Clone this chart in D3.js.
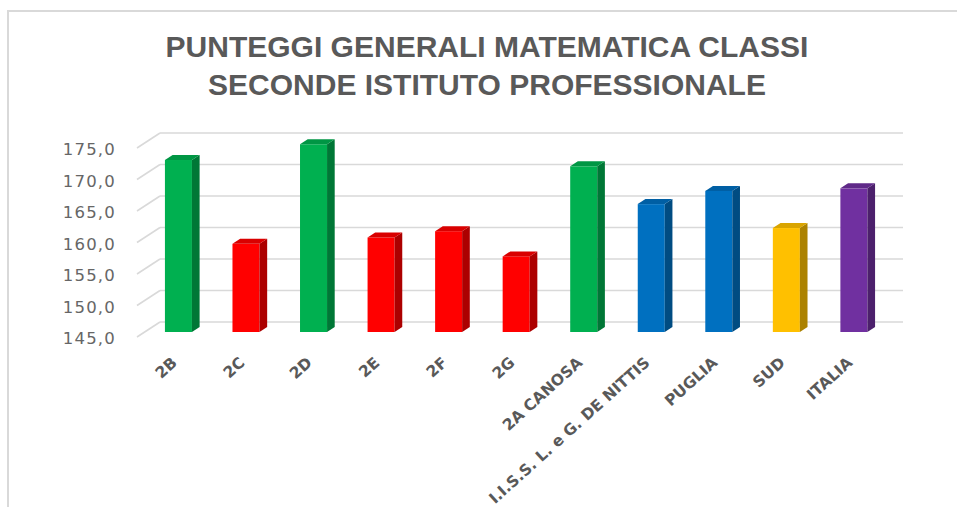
<!DOCTYPE html>
<html>
<head>
<meta charset="utf-8">
<script src="https://cdn.jsdelivr.net/npm/d3@7"></script>
<style>
  html, body { margin: 0; padding: 0; background: #fff; }
  svg { display: block; }
</style>
</head>
<body>
<svg id="chart" width="957" height="507"></svg>
<script>
// ---- DATA ----
const titleLines = ["PUNTEGGI GENERALI MATEMATICA CLASSI", "SECONDE ISTITUTO PROFESSIONALE"];
const categories = ["2B", "2C", "2D", "2E", "2F", "2G", "2A CANOSA", "I.I.S.S. L. e G. DE NITTIS", "PUGLIA", "SUD", "ITALIA"];
const values = [172.3, 159.0, 174.8, 160.0, 161.0, 157.0, 171.3, 165.3, 167.4, 161.5, 167.8];
const groups = ["alta", "bassa", "alta", "bassa", "bassa", "bassa", "alta", "istituto", "regione", "macroarea", "nazione"];
const tickValues = [145, 150, 155, 160, 165, 170, 175];

// ---- STYLE / LAYOUT ----
const groupColors = d3.scaleOrdinal()
  .domain(["alta", "bassa", "istituto", "regione", "macroarea", "nazione"])
  .range(["#00B050", "#FF0000", "#0070C0", "#0070C0", "#FFC000", "#7030A0"]);

const svg = d3.select("#chart");
const depth = { dx: 23, dy: -15 };      // floor depth vector
const barDepthStart = 1 / 3, barDepthEnd = 2 / 3;

const x = d3.scaleBand().domain(categories).range([137, 880]).paddingInner(0.6).paddingOuter(0.3);
const yFront = d3.scaleLinear().domain([145, 175]).range([337, 148]);
const fmt = d3.formatLocale({ decimal: ",", thousands: ".", grouping: [3], currency: ["€", ""] }).format(".1f");

// chart border
svg.append("rect").attr("x", 8).attr("y", 11).attr("width", 960).attr("height", 510)
  .attr("fill", "none").attr("stroke", "#d9d9d9").attr("stroke-width", 2);

// title
svg.append("g").selectAll("text").data(titleLines).join("text")
  .attr("x", 487).attr("y", (d, i) => 56.5 + i * 38.5)
  .attr("text-anchor", "middle")
  .attr("font-family", "'Liberation Sans', Arial, sans-serif")
  .attr("font-weight", "bold").attr("font-size", 30)
  .attr("fill", "#595959")
  .text(d => d);

// gridlines (back wall + left side wall)
const x0 = x.range()[0], x1 = x.range()[1];
const grid = svg.append("g").attr("stroke", "#d9d9d9").attr("stroke-width", 1.6).attr("fill", "none");
grid.selectAll("line.back").data(tickValues).join("line").attr("class", "back")
  .attr("x1", x0 + depth.dx).attr("x2", x1 + depth.dx)
  .attr("y1", d => yFront(d) + depth.dy).attr("y2", d => yFront(d) + depth.dy);
grid.selectAll("line.side").data(tickValues).join("line").attr("class", "side")
  .attr("x1", x0).attr("x2", x0 + depth.dx)
  .attr("y1", d => yFront(d)).attr("y2", d => yFront(d) + depth.dy);

// y tick labels
svg.append("g").selectAll("text").data(tickValues).join("text")
  .attr("x", 116).attr("y", d => yFront(d) + 1.5)
  .attr("dy", "0.35em")
  .attr("text-anchor", "end")
  .attr("font-family", "'DejaVu Sans', sans-serif").attr("font-size", 16.5)
  .attr("letter-spacing", "1.2px")
  .attr("fill", "#666666")
  .text(d => fmt(d));

// bars (3D)
const sdx = depth.dx * barDepthStart, sdy = depth.dy * barDepthStart;          // front face offset
const bdx = depth.dx * (barDepthEnd - barDepthStart), bdy = depth.dy * (barDepthEnd - barDepthStart); // bar depth
const bw = x.bandwidth();
const data = categories.map((c, i) => ({ c, v: values[i], g: groups[i] }));

const bars = svg.append("g").selectAll("g").data(data).join("g");
bars.each(function (d) {
  const g = d3.select(this);
  const col = d3.color(groupColors(d.g));
  const left = x(d.c) + sdx, right = left + bw;
  const top = yFront(d.v) + sdy, bot = yFront(145) + sdy;
  // front
  g.append("rect").attr("x", left).attr("y", top).attr("width", bw).attr("height", bot - top).attr("fill", col.formatHex());
  // side
  g.append("path").attr("d", `M${right},${top}L${right + bdx},${top + bdy}L${right + bdx},${bot + bdy}L${right},${bot}Z`)
    .attr("fill", col.darker(1.1).formatHex());
  // top
  g.append("path").attr("d", `M${left},${top}L${left + bdx},${top + bdy}L${right + bdx},${top + bdy}L${right},${top}Z`)
    .attr("fill", col.darker(0.45).formatHex());
});

// x labels
svg.append("g").selectAll("text").data(categories).join("text")
  .attr("transform", d => `translate(${x(d) + sdx + bw / 2 - 4},${360}) rotate(-42)`)
  .attr("dy", "0.35em")
  .attr("text-anchor", "end")
  .attr("font-family", "'DejaVu Sans', sans-serif").attr("font-weight", "bold").attr("font-size", 15.5)
  .attr("fill", "#595959")
  .text(d => d);
</script>
</body>
</html>
